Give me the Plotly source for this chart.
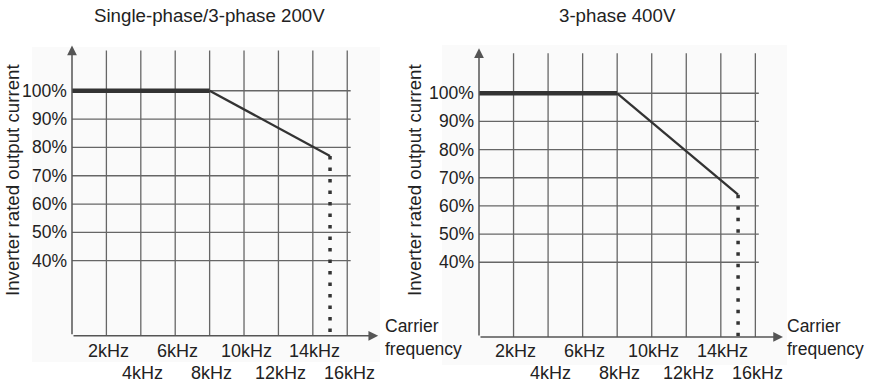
import plotly.graph_objects as go

# data (kHz, % of rated current)
freq_ticks = [2, 4, 6, 8, 10, 12, 14, 16]
tick_labels = ["2kHz", "4kHz", "6kHz", "8kHz", "10kHz", "12kHz", "14kHz", "16kHz"]
pct_ticks = [40, 50, 60, 70, 80, 90, 100]
pct_labels = ["40%", "50%", "60%", "70%", "80%", "90%", "100%"]

flat_freq = [0, 8]
flat_pct = [100, 100]
slope_freq = [8, 15]
slope_pct_200v = [100, 77]
slope_pct_400v = [100, 64]
limit_freq = 15

titles = ["Single-phase/3-phase 200V", "3-phase 400V"]

W, H = 871, 384
FONT = "Liberation Sans, Arial, sans-serif"
TXT = "#222222"
GRID = "#666666"
DARK = "#333333"
Y0, Y1 = 13.5, 116
X1 = [17.8, 17.6]


def px(v):
    return v / W


def py(v):
    return 1 - v / H


fig = go.Figure()

panels = [
    dict(xa="x", ya="y", xdom=[px(72), px(378.2)], ydom=[py(335.8), py(45.4)],
         slope=slope_pct_200v, title_x=209.5, ylab_x=12, carrier_x=383, bg=[32, 47, 380, 362]),
    dict(xa="x2", ya="y2", xdom=[px(479), px(783)], ydom=[py(336.9), py(48.2)],
         slope=slope_pct_400v, title_x=617, ylab_x=414, carrier_x=785, bg=[442, 45, 787, 365]),
]

shapes = []
annotations = []

for i, p in enumerate(panels):
    xa, ya = p["xa"], p["ya"]
    # faint background panel
    shapes.append(dict(type="rect", xref="paper", yref="paper", layer="below",
                       x0=px(p["bg"][0]), x1=px(p["bg"][2]), y0=py(p["bg"][3]), y1=py(p["bg"][1]),
                       fillcolor="#fafafa", line=dict(width=0)))
    # grid
    for v in pct_ticks:
        shapes.append(dict(type="line", xref=xa, yref=ya, x0=0, x1=16.2, y0=v, y1=v,
                           line=dict(color=GRID, width=1.3), layer="below"))
    for f in freq_ticks:
        shapes.append(dict(type="line", xref=xa, yref=ya, x0=f, x1=f, y0=Y0, y1=114.2,
                           line=dict(color=GRID, width=1.3), layer="below"))
    # axes with arrows
    annotations.append(dict(xref=xa, yref=ya, axref=xa, ayref=ya, x=0, y=Y1, ax=0, ay=Y0,
                            text="", showarrow=True, arrowhead=2, arrowsize=1.3,
                            arrowwidth=1.5, arrowcolor="#555555", standoff=0))
    annotations.append(dict(xref=xa, yref=ya, axref=xa, ayref=ya, x=X1[i], y=Y0, ax=0, ay=Y0,
                            text="", showarrow=True, arrowhead=2, arrowsize=1.3,
                            arrowwidth=1.5, arrowcolor="#555555", standoff=0))
    # curve
    fig.add_trace(go.Scatter(x=flat_freq, y=flat_pct, mode="lines", xaxis=xa, yaxis=ya,
                             line=dict(color=DARK, width=4.5), showlegend=False))
    fig.add_trace(go.Scatter(x=slope_freq, y=p["slope"], mode="lines", xaxis=xa, yaxis=ya,
                             line=dict(color=DARK, width=2.3), showlegend=False))
    fig.add_trace(go.Scatter(x=[limit_freq, limit_freq], y=[p["slope"][-1], Y0], mode="lines",
                             xaxis=xa, yaxis=ya, showlegend=False,
                             line=dict(color=DARK, width=3.5, dash="3.5px,8px")))
    # y tick labels
    for v, t in zip(pct_ticks, pct_labels):
        annotations.append(dict(xref=xa, yref=ya, x=0, y=v, text=t, showarrow=False,
                                xanchor="right", yanchor="middle", xshift=-3,
                                font=dict(size=17.5, color=TXT, family=FONT)))
    # x tick labels in two staggered rows
    for j, (f, t) in enumerate(zip(freq_ticks, tick_labels)):
        row_y = 350.5 if j % 2 == 0 else 373
        annotations.append(dict(xref=xa, yref="paper", x=f, y=py(row_y), text=t, showarrow=False,
                                xanchor="center", yanchor="middle", xshift=2,
                                font=dict(size=18, color=TXT, family=FONT)))
    annotations.append(dict(xref="paper", yref="paper", x=px(p["carrier_x"]), y=py(337),
                            text="Carrier<br>frequency", showarrow=False, align="left",
                            xanchor="left", yanchor="middle",
                            font=dict(size=17.5, color=TXT, family=FONT)))
    annotations.append(dict(xref="paper", yref="paper", x=px(p["ylab_x"]), y=py(180),
                            text="Inverter rated output current", showarrow=False, textangle=-90,
                            xanchor="center", yanchor="middle",
                            font=dict(size=18.7, color=TXT, family=FONT)))
    annotations.append(dict(xref="paper", yref="paper", x=px(p["title_x"]), y=py(16),
                            text=titles[i], showarrow=False, xanchor="center", yanchor="middle",
                            font=dict(size=18.7, color=TXT, family=FONT)))

axis_common = dict(showgrid=False, zeroline=False, showticklabels=False, ticks="",
                   showline=False, fixedrange=True)

fig.update_layout(
    width=W, height=H,
    margin=dict(l=0, r=0, t=0, b=0),
    paper_bgcolor="white", plot_bgcolor="rgba(0,0,0,0)",
    xaxis=dict(domain=panels[0]["xdom"], range=[0, X1[0]], anchor="y", **axis_common),
    yaxis=dict(domain=panels[0]["ydom"], range=[Y0, Y1], anchor="x", **axis_common),
    xaxis2=dict(domain=panels[1]["xdom"], range=[0, X1[1]], anchor="y2", **axis_common),
    yaxis2=dict(domain=panels[1]["ydom"], range=[Y0, Y1], anchor="x2", **axis_common),
    shapes=shapes,
    annotations=annotations,
    showlegend=False,
)

# drop the default page margin so the figure sits at the window's top-left corner
fig.write_html("out.html", config={"displayModeBar": False},
               post_script="document.body.style.margin='0';document.body.style.overflow='hidden';")
